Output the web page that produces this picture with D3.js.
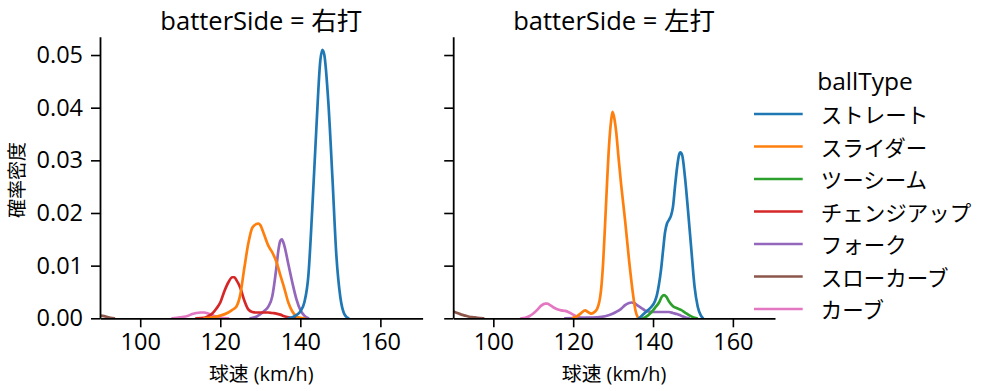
<!DOCTYPE html>
<html><head><meta charset="utf-8">
<script src="https://cdn.jsdelivr.net/npm/d3@7"></script>
<style>
html,body{margin:0;padding:0;background:#fff;}
svg text{font-family:"Open Sans","Noto Sans CJK JP",sans-serif;fill:#000;}
</style></head>
<body><svg id="c" width="999" height="391"></svg>
<script>
const ballTypes = ["ストレート","スライダー","ツーシーム","チェンジアップ","フォーク","スローカーブ","カーブ"];
const colors = ["#1f77b4","#ff7f0e","#2ca02c","#d62728","#9467bd","#8c564b","#e377c2"];
const panels = ["右打","左打"];
const xTicks = [100,120,140,160];
const yTicks = [0,0.01,0.02,0.03,0.04,0.05];

// 右打 (left panel) density curves: [speed, density]
const R_straight = [[137,0],[138,0.0002],[139,0.0006],[140,0.0013],[141,0.003],[142,0.008],[143,0.021],[144,0.036],[145,0.049],[145.5,0.051],[146,0.050],[147,0.041],[148,0.027],[149,0.012],[150,0.004],[151,0.0008],[152,0]];
const R_slider = [[116,0],[118,0.0002],[120,0.0005],[122,0.0011],[123,0.0016],[124,0.0022],[125,0.0045],[126,0.0095],[127,0.0142],[128,0.0172],[129,0.0179],[129.5,0.018],[130,0.0177],[131,0.0158],[132,0.0138],[133,0.0125],[134,0.0108],[135,0.0082],[136,0.0057],[137,0.003],[138,0.0013],[139,0.0004],[140,0.0001],[141,0]];
const R_change = [[114,0],[116,0.0001],[117,0.0004],[118,0.0009],[119,0.0018],[120,0.003],[121,0.0051],[122,0.0068],[123,0.0078],[123.5,0.0078],[124,0.0073],[125,0.0058],[126,0.0034],[127,0.0017],[128,0.0012],[129,0.0011],[130,0.0011],[131,0.0011],[132,0.0011],[133,0.001],[134,0.0009],[135,0.0007],[136,0.0004],[137,0.0002],[138,0.00005],[139,0]];
const R_fork = [[127.5,0],[129,0.0003],[130,0.0008],[131,0.0014],[132,0.0022],[133,0.0042],[134,0.0095],[134.5,0.0128],[135,0.0147],[135.4,0.015],[136,0.0138],[137,0.0103],[138,0.0068],[139,0.0037],[140,0.0016],[141,0.0005],[142,0]];
const R_slowcurve = [[90,0.0005],[91,0.0004],[92,0.0002],[93,0.00005],[93.5,0]];
const R_curve = [[108,0],[110,0.0002],[112,0.0005],[113,0.0008],[114,0.001],[115,0.0011],[116,0.0011],[117,0.0009],[118,0.0006],[119,0.0003],[120,0.0001],[122,0]];

// 左打 (right panel)
const L_straight = [[136.5,0],[137.5,0.0007],[138.5,0.0014],[139.5,0.0021],[140.5,0.0033],[141,0.0045],[141.5,0.0065],[142,0.0092],[142.5,0.0128],[143,0.0163],[143.5,0.018],[144,0.0187],[144.5,0.0195],[145,0.0212],[145.5,0.025],[146,0.0285],[146.5,0.031],[146.85,0.0315],[147.3,0.031],[148,0.0268],[148.75,0.0206],[149.6,0.013],[150.4,0.006],[151.2,0.0022],[152,0.0005],[152.5,0]];
const L_slider = [[120,0.0001],[121,0.0004],[122,0.001],[123,0.0015],[123.7,0.0012],[124.5,0.0009],[125,0.001],[126,0.0018],[127,0.0055],[127.5,0.0105],[128,0.018],[128.5,0.026],[129,0.033],[129.5,0.0375],[129.85,0.0392],[130.3,0.038],[130.8,0.0352],[131.3,0.031],[132,0.0255],[133,0.0186],[134,0.011],[135,0.0045],[135.6,0.0015],[136.3,0]];
const L_twoseam = [[137.5,0],[138.5,0.0004],[139.5,0.0011],[140.5,0.002],[141.5,0.003],[142.2,0.0041],[142.75,0.0044],[143.3,0.0041],[144,0.0032],[145,0.0023],[146,0.0019],[147,0.0016],[148,0.0011],[149,0.0006],[150,0.0002],[151,0]];
const L_fork = [[118,0],[122,0.0001],[126,0.0002],[128,0.0004],[130,0.0009],[131,0.0013],[132,0.0018],[133,0.0025],[134,0.0029],[134.6,0.003],[135.3,0.0029],[136,0.0025],[137,0.002],[138,0.0015],[139,0.0013],[140,0.0012],[141,0.0012],[142,0.0012],[143,0.0012],[144,0.0012],[145,0.001],[146,0.0008],[147,0.0005],[148,0.0002],[149,0]];
const L_slowcurve = [[90,0.0013],[91,0.001],[92,0.0007],[93,0.0005],[94,0.0003],[95,0.0002],[96,0.0001],[97.5,0]];
const L_curve = [[107,0],[108,0.0001],[109,0.0004],[110,0.0009],[111,0.0016],[112,0.0024],[113,0.0028],[113.5,0.0028],[114,0.0026],[115,0.0021],[116,0.0017],[117,0.0015],[118,0.0014],[119,0.0011],[120,0.0007],[121,0.0003],[122,0.0001],[123,0]];

const panelSeries = [
  [R_straight,R_slider,null,R_change,R_fork,R_slowcurve,R_curve],
  [L_straight,L_slider,L_twoseam,null,L_fork,L_slowcurve,L_curve]
];

const svg = d3.select("#c");
const plotTop = 36.7, plotBottom = 318.3;
const panelX = [[100,422.6],[453.2,775]];
const y = d3.scaleLinear().domain([0,0.05348]).range([plotBottom, plotTop]);

panelX.forEach((rng, pi) => {
  const x = d3.scaleLinear().domain([89.95,170.55]).range(rng);
  const g = svg.append("g");
  const cid = "clip"+pi;
  svg.append("clipPath").attr("id",cid).append("rect")
    .attr("x",rng[0]).attr("y",plotTop-5).attr("width",rng[1]-rng[0]).attr("height",plotBottom-plotTop+5);
  const line = d3.line().x(d=>x(d[0])).y(d=>y(d[1])).curve(d3.curveMonotoneX);
  const lines = g.append("g").attr("clip-path",`url(#${cid})`);
  for (let i = ballTypes.length-1; i >= 0; i--) {
    const s = panelSeries[pi][i];
    if (!s) continue;
    lines.append("path").attr("d", line(s)).attr("fill","none")
      .attr("stroke", colors[i]).attr("stroke-width",2.7).attr("stroke-linejoin","round").attr("stroke-linecap","round");
  }
  const xa = g.append("g").attr("transform",`translate(0,${plotBottom})`)
    .call(d3.axisBottom(x).tickValues(xTicks).tickSize(9).tickSizeOuter(0).tickPadding(6).tickFormat(d3.format("d")));
  const ya = g.append("g").attr("transform",`translate(${rng[0]},0)`)
    .call(d3.axisLeft(y).tickValues(yTicks).tickSize(9).tickSizeOuter(0).tickPadding(8).tickFormat(pi===0?d3.format(".2f"):()=>""));
  [xa,ya].forEach(a=>{
    a.select(".domain").attr("stroke","#000").attr("stroke-width",1.8);
    a.selectAll(".tick line").attr("stroke","#000").attr("stroke-width",1.6);
    a.selectAll(".tick text").attr("font-size",23.5).attr("fill","#000").attr("font-family",'"Open Sans",sans-serif');
  });
  const cx = (rng[0]+rng[1])/2;
  g.append("text").attr("x",cx).attr("y",29.5).attr("text-anchor","middle").attr("font-size",25.5)
    .text(`batterSide = ${panels[pi]}`);
  g.append("text").attr("x",cx).attr("y",380.5).attr("text-anchor","middle").attr("font-size",19.8)
    .text("球速 (km/h)");
});

svg.append("text").attr("transform","translate(24,180) rotate(-90)").attr("text-anchor","middle")
  .attr("font-size",19).text("確率密度");

const lg = svg.append("g");
lg.append("text").attr("x",865).attr("y",89.5).attr("text-anchor","middle").attr("font-size",24.5).text("ballType");
ballTypes.forEach((b,i)=>{
  const yy = 114 + i*32.5;
  lg.append("line").attr("x1",754).attr("x2",802.7).attr("y1",yy).attr("y2",yy)
    .attr("stroke",colors[i]).attr("stroke-width",2.7);
  lg.append("text").attr("x",820.7).attr("y",yy).attr("dy","0.42em").attr("font-size",21.5).text(b);
});
</script></body></html>
